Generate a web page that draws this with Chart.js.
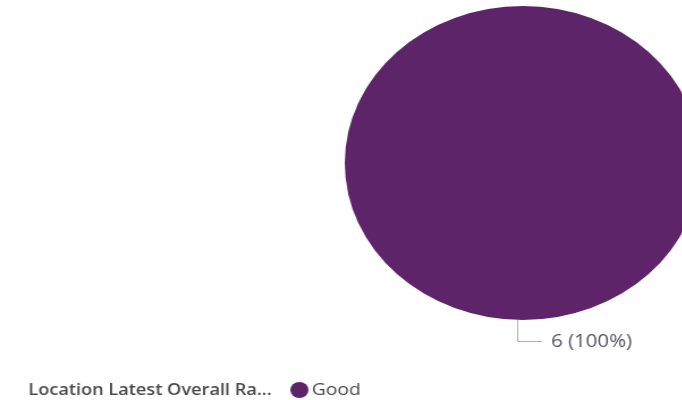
<!DOCTYPE html>
<html>
<head>
<title>Location Latest Overall Rating</title>
<script src="https://cdn.jsdelivr.net/npm/chart.js"></script>
<style>
  html, body { margin: 0; padding: 0; background: #fff; overflow: hidden; }
  #wrap { width: 640px; height: 400px; transform: scaleX(1.134); transform-origin: 0 0; }
</style>
</head>
<body>
<div id="wrap"><canvas id="pieChart"></canvas></div>
<script>
  var categories = ['Good'];
  var counts = [6];
  var colors = ['#5e246a'];
  var legendTitle = 'Location Latest Overall Ra...';

  // leader line + "n (pct%)" label under the slice, and the legend row at the bottom
  var labelsPlugin = {
    id: 'pieLabels',
    afterDraw: function(chart) {
      var ctx = chart.ctx;
      var meta = chart.getDatasetMeta(0);
      var total = counts.reduce(function(a, b) { return a + b; }, 0);
      ctx.save();
      meta.data.forEach(function(arc, i) {
        var x0 = arc.x - 5;
        var y0 = arc.y + arc.outerRadius;
        ctx.strokeStyle = '#b0b0b0';
        ctx.lineWidth = 1;
        ctx.beginPath();
        ctx.moveTo(x0 + 0.5, y0);
        ctx.lineTo(x0 + 0.5, y0 + 21.5);
        ctx.lineTo(x0 + 22, y0 + 21.5);
        ctx.stroke();
        ctx.fillStyle = '#545468';
        ctx.font = '18px "Open Sans"';
        ctx.textBaseline = 'middle';
        ctx.fillText(counts[i] + ' (' + Math.round(counts[i] / total * 100) + '%)', x0 + 30, y0 + 22);
      });

      var ly = 390;
      ctx.textBaseline = 'middle';
      ctx.fillStyle = '#4a4a4a';
      ctx.font = '600 16px "Open Sans"';
      ctx.fillText(legendTitle, 25, ly);
      var x = 256;
      categories.forEach(function(c, i) {
        ctx.fillStyle = colors[i];
        ctx.beginPath();
        ctx.arc(x + 8, ly, 8, 0, Math.PI * 2);
        ctx.fill();
        ctx.fillStyle = '#4a4a4a';
        ctx.font = '17px "Open Sans"';
        ctx.fillText(c, x + 19, ly);
        x += 19 + ctx.measureText(c).width + 20;
      });
      ctx.restore();
    }
  };

  new Chart(document.getElementById('pieChart'), {
    type: 'pie',
    data: {
      labels: categories,
      datasets: [{
        data: counts,
        backgroundColor: colors,
        borderWidth: 0
      }]
    },
    options: {
      responsive: true,
      maintainAspectRatio: false,
      animation: false,
      layout: { padding: { left: 304, right: 22, top: 6, bottom: 80 } },
      plugins: {
        legend: { display: false },
        tooltip: { enabled: false }
      }
    },
    plugins: [labelsPlugin]
  });
</script>
</body>
</html>
